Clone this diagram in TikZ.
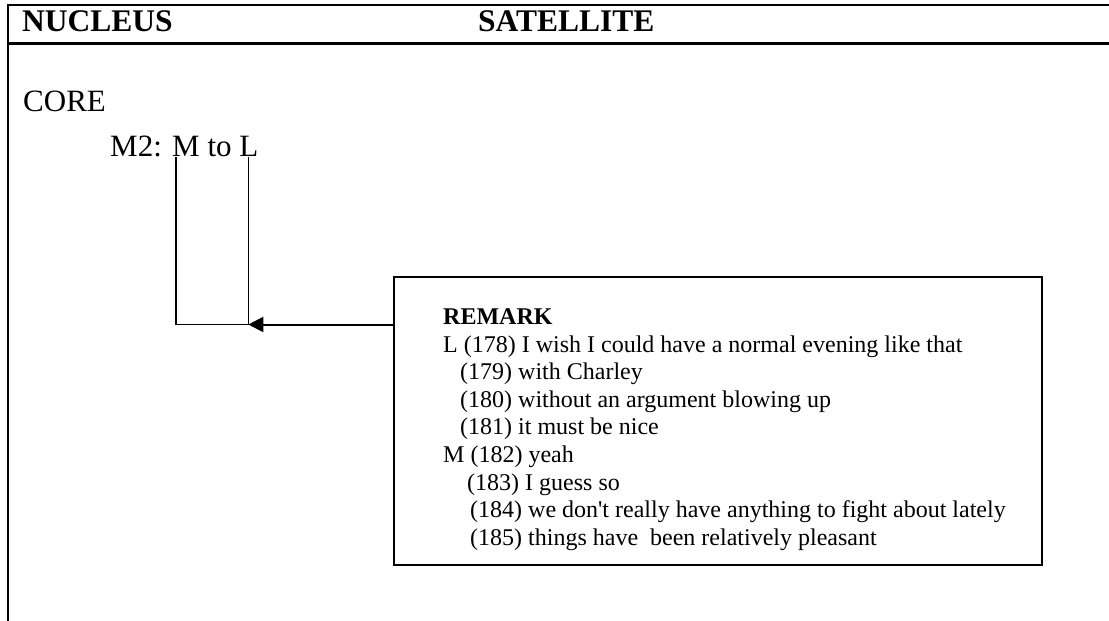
\documentclass[tikz,border=0pt]{standalone}
\usepackage{fontspec}
\setmainfont{Liberation Serif}
\usetikzlibrary{arrows.meta}
\begin{document}
\begin{tikzpicture}
[x=1pt,y=-1pt,
  frameDecorate/.style={line width=2.3pt},
  bracketDecorate/.style={line width=1.3pt},
  arrowDecorate/.style={line width=2pt,-{Triangle[length=15pt,width=15pt]}},
  boxDecorate/.style={draw,line width=2pt,minimum width=648pt,minimum height=288pt,
    inner sep=0pt,anchor=north west},
  headDecorate/.style={font=\fontsize{31.5}{31.5}\selectfont\bfseries,anchor=base west,inner sep=0pt},
  coreDecorate/.style={font=\fontsize{31}{31}\selectfont,anchor=base west,inner sep=0pt},
  textDecorate/.style={font=\fontsize{24}{24}\selectfont,anchor=base west,inner sep=0pt}]
\useasboundingbox (0,0) rectangle (1109,621);
%% frame and header
\draw[frameDecorate] (1109,5) -- (8,5) -- (8,621);
\draw[frameDecorate] (8,43.5) -- (1109,43.5);
\node (nucleus) at (22,31.5) [headDecorate] {NUCLEUS};
\node (satellite) at (478,31.5) [headDecorate] {SATELLITE};
%% core
\node (core) at (23,111.7) [coreDecorate] {CORE};
\node (m2) at (110,156.7) [coreDecorate] {M2: M to L};
\coordinate (mTop) at (176,157);
\coordinate (lTop) at (248.3,157);
\coordinate (lCorner) at (248.3,324.5);
\draw[bracketDecorate] (mTop) |- (lCorner) -- (lTop);
%% remark box
\node (remark) at (392.5,275.5) [boxDecorate] {};
\node (remarkhead) at (443,324.4) [textDecorate,font=\fontsize{24}{24}\selectfont\bfseries] {REMARK};
\foreach \linename/\x/\k/\linetext in {
  178/443/1/{L (178) I wish I could have a normal evening like that},
  179/460/2/{(179) with Charley},
  180/460/3/{(180) without an argument blowing up},
  181/460/4/{(181) it must be nice},
  182/443/5/{M (182) yeah},
  183/467/6/{(183) I guess so},
  184/470/7/{(184) we don\textquotesingle t really have anything to fight about lately},
  185/470/8/{(185) things have\ \ been relatively pleasant}}
{
  \node (line\linename) at (\x,324.4+\k*27.6) [textDecorate] {\linetext};
}
%% arrow
\draw[arrowDecorate] (remark.west |- lCorner) -- (lCorner);
\end{tikzpicture}
\end{document}
